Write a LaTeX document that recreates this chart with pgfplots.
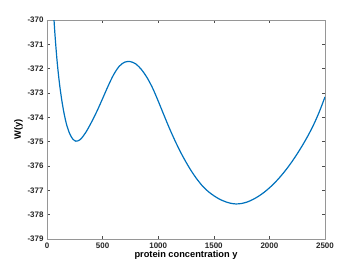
\documentclass[border=0pt]{standalone}
\usepackage{fontspec}
\setmainfont{Liberation Sans}
\usepackage{pgfplots}
\pgfplotsset{compat=1.18}
\usetikzlibrary{calc}
\definecolor{mblue}{RGB}{0,114,189}
\definecolor{axgray}{RGB}{150,150,150}
\begin{document}
\begin{tikzpicture}[x=1bp,y=1bp]
\begin{axis}[
  scale only axis,
  width=278bp, height=219bp,
  xmin=0, xmax=2500, ymin=-379, ymax=-370,
  xtick={0,500,1000,1500,2000,2500},
  ytick={-379,-378,-377,-376,-375,-374,-373,-372,-371,-370},
  tick align=inside,
  major tick length=3bp,
  axis line style={axgray, line width=0.6bp},
  tick style={black!70, line width=0.5bp},
  every tick label/.append style={font=\fontsize{8}{9}\selectfont\bfseries, text=black!85},
  /pgf/number format/assume math mode=true,
  /pgf/number format/1000 sep={},
  scaled ticks=false,
  xlabel={\fontsize{9.3}{11}\selectfont\bfseries protein concentration y},
  ylabel={\fontsize{9.3}{11}\selectfont\bfseries W(y)},
  xlabel style={yshift=4bp},
  ylabel style={yshift=-2bp},
]
\addplot[mblue, line width=1.2bp, smooth] coordinates {
(63,-370.00) (71,-370.55) (80,-371.10) (90,-371.65) (102,-372.20)
(116,-372.75) (133,-373.30) (154,-373.85) (178,-374.33) (205,-374.68)
(230,-374.88) (260,-374.98) (300,-374.91) (350,-374.61) (400,-374.20)
(450,-373.74) (500,-373.23) (550,-372.71) (600,-372.24) (650,-371.90)
(700,-371.73) (750,-371.71) (800,-371.81) (850,-372.04) (900,-372.37)
(950,-372.80) (1000,-373.33) (1050,-373.89) (1100,-374.44) (1150,-374.95)
(1200,-375.42) (1250,-375.84) (1300,-376.22) (1350,-376.55) (1400,-376.83)
(1450,-377.05) (1500,-377.22) (1550,-377.36) (1600,-377.46) (1650,-377.53)
(1700,-377.56) (1750,-377.54) (1800,-377.48) (1850,-377.38) (1900,-377.25)
(1950,-377.09) (2000,-376.90) (2050,-376.68) (2100,-376.43) (2150,-376.15)
(2200,-375.84) (2250,-375.50) (2300,-375.13) (2350,-374.73) (2400,-374.28)
(2450,-373.76) (2500,-373.16)
};
\end{axis}
\path[use as bounding box] ($(current axis.south west)+(-47,-31)$) rectangle ($(current axis.north east)+(35,20)$);
\end{tikzpicture}
\end{document}
